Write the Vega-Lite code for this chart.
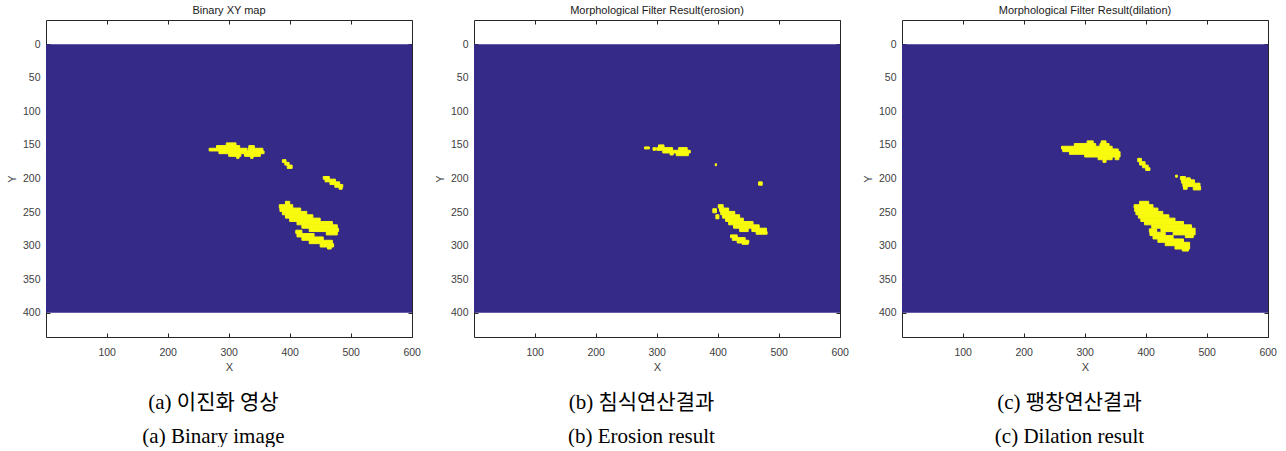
{
  "$schema": "https://vega.github.io/schema/vega-lite/v6.json",
  "background": "white",
  "padding": {"left": 6, "top": 4, "right": 0, "bottom": 0},
  "autosize": {"type": "pad"},
  "spacing": 13,
  "config": {
    "view": {"stroke": null},
    "axis": {
      "grid": false,
      "domainColor": "#262626",
      "tickColor": "#262626",
      "labelColor": "#404040",
      "labelFont": "Liberation Sans",
      "labelFontSize": 10.5,
      "titleFont": "Liberation Sans",
      "titleFontSize": 11,
      "titleFontWeight": "normal",
      "titleColor": "#404040",
      "tickSize": -4,
      "labelFlush": false,
      "labelOverlap": false
    },
    "title": {"font": "Liberation Sans", "fontSize": 11, "fontWeight": "normal", "color": "#1a1a1a", "offset": 4}
  },
  "datasets": {
    "bg": [{"x1": 0.5, "x2": 600.5, "y1": 0, "y2": 400}],
    "p1": [
      {"y1": 147, "y2": 151, "x1": 296, "x2": 312},
      {"y1": 151, "y2": 155, "x1": 280, "x2": 318},
      {"y1": 151, "y2": 155, "x1": 333, "x2": 342},
      {"y1": 155, "y2": 159, "x1": 268, "x2": 330},
      {"y1": 155, "y2": 159, "x1": 332, "x2": 356},
      {"y1": 159, "y2": 163, "x1": 284, "x2": 358},
      {"y1": 163, "y2": 167, "x1": 300, "x2": 320},
      {"y1": 163, "y2": 167, "x1": 326, "x2": 352},
      {"y1": 167, "y2": 170, "x1": 313, "x2": 317},
      {"y1": 167, "y2": 170, "x1": 336, "x2": 340},
      {"y1": 172, "y2": 176, "x1": 388, "x2": 394},
      {"y1": 176, "y2": 180, "x1": 392, "x2": 399},
      {"y1": 180, "y2": 185, "x1": 396, "x2": 404},
      {"y1": 197, "y2": 201, "x1": 455, "x2": 465},
      {"y1": 201, "y2": 205, "x1": 458, "x2": 475},
      {"y1": 205, "y2": 209, "x1": 466, "x2": 482},
      {"y1": 209, "y2": 213, "x1": 474, "x2": 487},
      {"y1": 213, "y2": 216, "x1": 481, "x2": 486},
      {"y1": 234, "y2": 239, "x1": 393, "x2": 400},
      {"y1": 239, "y2": 244, "x1": 383, "x2": 405},
      {"y1": 244, "y2": 249, "x1": 384, "x2": 418},
      {"y1": 249, "y2": 254, "x1": 388, "x2": 428},
      {"y1": 254, "y2": 259, "x1": 393, "x2": 438},
      {"y1": 259, "y2": 264, "x1": 400, "x2": 450},
      {"y1": 264, "y2": 269, "x1": 412, "x2": 470},
      {"y1": 269, "y2": 274, "x1": 420, "x2": 478},
      {"y1": 274, "y2": 279, "x1": 432, "x2": 480},
      {"y1": 279, "y2": 284, "x1": 460, "x2": 478},
      {"y1": 277, "y2": 282, "x1": 410, "x2": 420},
      {"y1": 282, "y2": 287, "x1": 412, "x2": 440},
      {"y1": 287, "y2": 292, "x1": 420, "x2": 455},
      {"y1": 292, "y2": 297, "x1": 432, "x2": 470},
      {"y1": 297, "y2": 302, "x1": 450, "x2": 472},
      {"y1": 302, "y2": 305, "x1": 462, "x2": 468}
    ],
    "p2": [
      {"y1": 153, "y2": 156, "x1": 280, "x2": 288},
      {"y1": 150, "y2": 154, "x1": 303, "x2": 312},
      {"y1": 154, "y2": 158, "x1": 294, "x2": 298},
      {"y1": 154, "y2": 158, "x1": 300, "x2": 326},
      {"y1": 154, "y2": 158, "x1": 336, "x2": 350},
      {"y1": 158, "y2": 162, "x1": 310, "x2": 355},
      {"y1": 162, "y2": 166, "x1": 332, "x2": 352},
      {"y1": 162, "y2": 165, "x1": 322, "x2": 327},
      {"y1": 178, "y2": 181, "x1": 396, "x2": 398},
      {"y1": 205, "y2": 210, "x1": 467, "x2": 473},
      {"y1": 239, "y2": 244, "x1": 401, "x2": 409},
      {"y1": 244, "y2": 249, "x1": 403, "x2": 418},
      {"y1": 249, "y2": 254, "x1": 405, "x2": 428},
      {"y1": 254, "y2": 259, "x1": 408, "x2": 436},
      {"y1": 259, "y2": 264, "x1": 413, "x2": 442},
      {"y1": 264, "y2": 269, "x1": 418, "x2": 458},
      {"y1": 269, "y2": 274, "x1": 426, "x2": 468},
      {"y1": 274, "y2": 279, "x1": 436, "x2": 450},
      {"y1": 274, "y2": 279, "x1": 456, "x2": 480},
      {"y1": 279, "y2": 283, "x1": 463, "x2": 481},
      {"y1": 245, "y2": 251, "x1": 392, "x2": 398},
      {"y1": 254, "y2": 260, "x1": 397, "x2": 402},
      {"y1": 284, "y2": 288, "x1": 421, "x2": 432},
      {"y1": 288, "y2": 292, "x1": 424, "x2": 445},
      {"y1": 292, "y2": 296, "x1": 432, "x2": 451},
      {"y1": 296, "y2": 298, "x1": 440, "x2": 450}
    ],
    "p3": [
      {"y1": 144, "y2": 148, "x1": 304, "x2": 314},
      {"y1": 144, "y2": 148, "x1": 327, "x2": 335},
      {"y1": 148, "y2": 152, "x1": 283, "x2": 318},
      {"y1": 148, "y2": 152, "x1": 325, "x2": 340},
      {"y1": 152, "y2": 156, "x1": 262, "x2": 345},
      {"y1": 156, "y2": 160, "x1": 264, "x2": 355},
      {"y1": 160, "y2": 164, "x1": 275, "x2": 358},
      {"y1": 164, "y2": 168, "x1": 300, "x2": 358},
      {"y1": 168, "y2": 172, "x1": 322, "x2": 345},
      {"y1": 168, "y2": 172, "x1": 350, "x2": 356},
      {"y1": 172, "y2": 176, "x1": 330, "x2": 335},
      {"y1": 170, "y2": 175, "x1": 387, "x2": 393},
      {"y1": 175, "y2": 180, "x1": 390, "x2": 399},
      {"y1": 180, "y2": 184, "x1": 395, "x2": 404},
      {"y1": 184, "y2": 188, "x1": 400, "x2": 407},
      {"y1": 195, "y2": 198, "x1": 449, "x2": 452},
      {"y1": 197, "y2": 202, "x1": 457, "x2": 465},
      {"y1": 199, "y2": 203, "x1": 467, "x2": 473},
      {"y1": 202, "y2": 207, "x1": 459, "x2": 480},
      {"y1": 207, "y2": 212, "x1": 461, "x2": 489},
      {"y1": 212, "y2": 216, "x1": 462, "x2": 468},
      {"y1": 212, "y2": 217, "x1": 478, "x2": 490},
      {"y1": 234, "y2": 239, "x1": 390, "x2": 405},
      {"y1": 239, "y2": 244, "x1": 381, "x2": 412},
      {"y1": 244, "y2": 249, "x1": 382, "x2": 420},
      {"y1": 249, "y2": 254, "x1": 384, "x2": 428},
      {"y1": 254, "y2": 259, "x1": 388, "x2": 438},
      {"y1": 259, "y2": 264, "x1": 392, "x2": 448},
      {"y1": 264, "y2": 269, "x1": 398, "x2": 462},
      {"y1": 269, "y2": 274, "x1": 410, "x2": 475},
      {"y1": 274, "y2": 279, "x1": 425, "x2": 481},
      {"y1": 279, "y2": 284, "x1": 445, "x2": 481},
      {"y1": 284, "y2": 288, "x1": 465, "x2": 478},
      {"y1": 275, "y2": 280, "x1": 406, "x2": 418},
      {"y1": 280, "y2": 285, "x1": 407, "x2": 432},
      {"y1": 285, "y2": 290, "x1": 412, "x2": 445},
      {"y1": 290, "y2": 295, "x1": 420, "x2": 462},
      {"y1": 295, "y2": 300, "x1": 432, "x2": 472},
      {"y1": 300, "y2": 305, "x1": 448, "x2": 472},
      {"y1": 305, "y2": 308, "x1": 460, "x2": 470}
    ]
  },
  "hconcat": [
    {
      "title": {"text": ["(a) 이진화 영상", "(a)  Binary  image"], "orient": "bottom", "anchor": "middle", "frame": "bounds", "font": "Liberation Serif, Noto Sans CJK KR", "fontSize": 21, "fontWeight": "normal", "color": "#000000", "lineHeight": 34, "offset": 19},
      "vconcat": [
        {
          "width": 366, "height": 317,
          "title": {"text": "Binary XY map"},
          "layer": [
            {
              "data": {"name": "bg"},
              "mark": {"type": "rect", "color": "#352A87"},
              "encoding": {
                "x": {"field": "x1", "type": "quantitative", "scale": {"domain": [0.5, 600.5], "nice": false, "zero": false}, "axis": {"orient": "bottom", "values": [100, 200, 300, 400, 500, 600], "title": "X", "labelPadding": 14, "titlePadding": 4}},
                "x2": {"field": "x2"},
                "y": {"field": "y1", "type": "quantitative", "scale": {"domain": [-36, 436], "nice": false, "zero": false, "reverse": true}, "axis": {"orient": "left", "values": [0, 50, 100, 150, 200, 250, 300, 350, 400], "title": "Y", "labelPadding": 10, "titlePadding": 5}},
                "y2": {"field": "y2"}
              }
            },
            {
              "data": {"name": "p1"},
              "mark": {"type": "rect", "color": "#F9FB0E", "stroke": "#F9FB0E", "strokeWidth": 1},
              "encoding": {
                "x": {"field": "x1", "type": "quantitative", "axis": {"orient": "top", "values": [100, 200, 300, 400, 500, 600], "labels": false, "title": null}},
                "x2": {"field": "x2"},
                "y": {"field": "y1", "type": "quantitative", "axis": {"orient": "right", "values": [0, 50, 100, 150, 200, 250, 300, 350, 400], "labels": false, "title": null}},
                "y2": {"field": "y2"}
              }
            }
          ],
          "resolve": {"axis": {"x": "independent", "y": "independent"}}
        }
      ]
    },
    {
      "title": {"text": ["(b) 침식연산결과", "(b)  Erosion  result"], "orient": "bottom", "anchor": "middle", "frame": "bounds", "font": "Liberation Serif, Noto Sans CJK KR", "fontSize": 21, "fontWeight": "normal", "color": "#000000", "lineHeight": 34, "offset": 19},
      "vconcat": [
        {
          "width": 366, "height": 317,
          "title": {"text": "Morphological Filter Result(erosion)"},
          "layer": [
            {
              "data": {"name": "bg"},
              "mark": {"type": "rect", "color": "#352A87"},
              "encoding": {
                "x": {"field": "x1", "type": "quantitative", "scale": {"domain": [0.5, 600.5], "nice": false, "zero": false}, "axis": {"orient": "bottom", "values": [100, 200, 300, 400, 500, 600], "title": "X", "labelPadding": 14, "titlePadding": 4}},
                "x2": {"field": "x2"},
                "y": {"field": "y1", "type": "quantitative", "scale": {"domain": [-36, 436], "nice": false, "zero": false, "reverse": true}, "axis": {"orient": "left", "values": [0, 50, 100, 150, 200, 250, 300, 350, 400], "title": "Y", "labelPadding": 10, "titlePadding": 5}},
                "y2": {"field": "y2"}
              }
            },
            {
              "data": {"name": "p2"},
              "mark": {"type": "rect", "color": "#F9FB0E", "stroke": "#F9FB0E", "strokeWidth": 1},
              "encoding": {
                "x": {"field": "x1", "type": "quantitative", "axis": {"orient": "top", "values": [100, 200, 300, 400, 500, 600], "labels": false, "title": null}},
                "x2": {"field": "x2"},
                "y": {"field": "y1", "type": "quantitative", "axis": {"orient": "right", "values": [0, 50, 100, 150, 200, 250, 300, 350, 400], "labels": false, "title": null}},
                "y2": {"field": "y2"}
              }
            }
          ],
          "resolve": {"axis": {"x": "independent", "y": "independent"}}
        }
      ]
    },
    {
      "title": {"text": ["(c) 팽창연산결과", "(c)  Dilation  result"], "orient": "bottom", "anchor": "middle", "frame": "bounds", "font": "Liberation Serif, Noto Sans CJK KR", "fontSize": 21, "fontWeight": "normal", "color": "#000000", "lineHeight": 34, "offset": 19},
      "vconcat": [
        {
          "width": 366, "height": 317,
          "title": {"text": "Morphological Filter Result(dilation)"},
          "layer": [
            {
              "data": {"name": "bg"},
              "mark": {"type": "rect", "color": "#352A87"},
              "encoding": {
                "x": {"field": "x1", "type": "quantitative", "scale": {"domain": [0.5, 600.5], "nice": false, "zero": false}, "axis": {"orient": "bottom", "values": [100, 200, 300, 400, 500, 600], "title": "X", "labelPadding": 14, "titlePadding": 4}},
                "x2": {"field": "x2"},
                "y": {"field": "y1", "type": "quantitative", "scale": {"domain": [-36, 436], "nice": false, "zero": false, "reverse": true}, "axis": {"orient": "left", "values": [0, 50, 100, 150, 200, 250, 300, 350, 400], "title": "Y", "labelPadding": 10, "titlePadding": 5}},
                "y2": {"field": "y2"}
              }
            },
            {
              "data": {"name": "p3"},
              "mark": {"type": "rect", "color": "#F9FB0E", "stroke": "#F9FB0E", "strokeWidth": 1},
              "encoding": {
                "x": {"field": "x1", "type": "quantitative", "axis": {"orient": "top", "values": [100, 200, 300, 400, 500, 600], "labels": false, "title": null}},
                "x2": {"field": "x2"},
                "y": {"field": "y1", "type": "quantitative", "axis": {"orient": "right", "values": [0, 50, 100, 150, 200, 250, 300, 350, 400], "labels": false, "title": null}},
                "y2": {"field": "y2"}
              }
            }
          ],
          "resolve": {"axis": {"x": "independent", "y": "independent"}}
        }
      ]
    }
  ]
}
